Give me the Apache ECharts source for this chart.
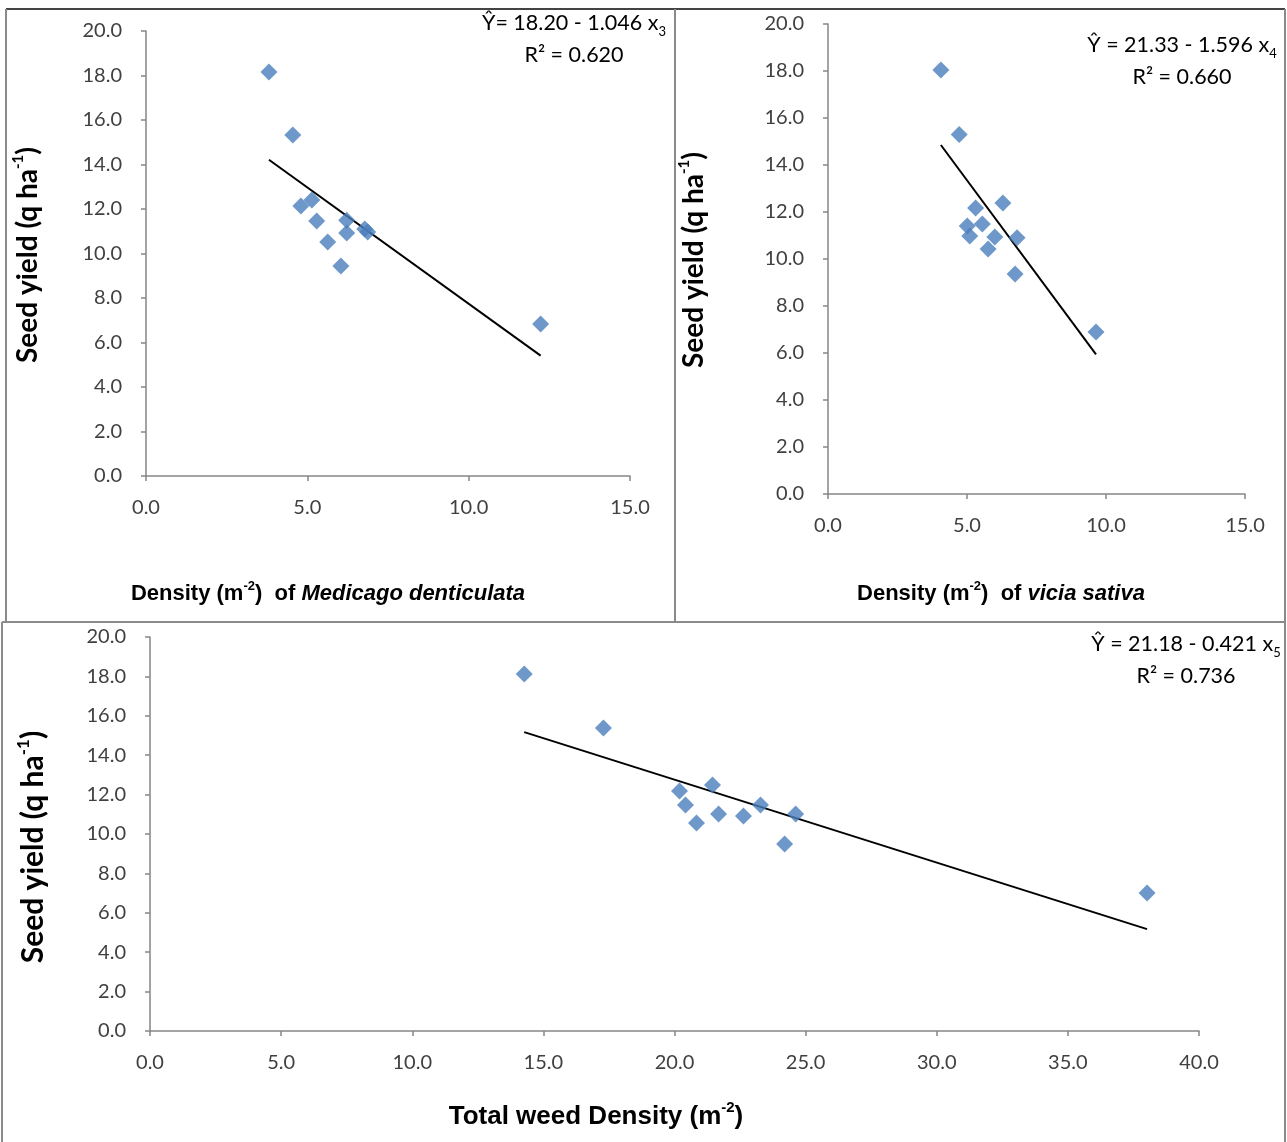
<!DOCTYPE html>
<html>
<head>
<meta charset="utf-8">
<title>Seed yield vs weed density</title>
<script src="https://cdn.jsdelivr.net/npm/echarts@6/dist/echarts.min.js"></script>
<style>
  html, body { margin: 0; padding: 0; background: #fff; }
  #chart { width: 1287px; height: 1142px; }
</style>
</head>
<body>
<div id="chart"></div>
<script>
// Weed density (plants m-2) and seed yield (q ha-1) per plot
const medicagoDensity = [3.81, 4.55, 4.80, 5.14, 5.29, 5.63, 6.04, 6.22, 6.22, 6.78, 6.87, 12.23];
const medicagoYield   = [18.16, 15.33, 12.13, 12.40, 11.46, 10.52, 9.44, 11.50, 10.92, 11.10, 10.97, 6.83];

const viciaDensity = [4.06, 4.72, 5.31, 6.29, 5.01, 5.10, 5.55, 6.00, 5.76, 6.80, 6.73, 9.64];
const viciaYield   = [18.04, 15.30, 12.17, 12.38, 11.40, 10.98, 11.49, 10.94, 10.43, 10.90, 9.36, 6.89];

const totalDensity = [14.27, 17.29, 20.19, 20.42, 20.84, 21.45, 21.68, 22.63, 23.28, 24.20, 24.62, 38.02];
const totalYield   = [18.12, 15.38, 12.18, 11.47, 10.56, 12.49, 11.02, 10.91, 11.47, 9.49, 11.02, 7.00];

// Fitted regressions: intercept, slope, R²
const fitMedicago = { a: 18.20, b: -1.046, r2: 0.620 };
const fitVicia    = { a: 21.33, b: -1.596, r2: 0.660 };
const fitTotal    = { a: 21.18, b: -0.421, r2: 0.736 };

// axis ranges: [min, max, interval]
const yTicks = [0, 20, 2];
const xTicksSmall = [0, 15, 5];
const xTicksTotal = [0, 40, 5];

function pairs(xs, ys) { return xs.map((x, i) => [x, ys[i]]); }
function fitLine(xs, fit) {
  const lo = Math.min(...xs), hi = Math.max(...xs);
  return [[lo, fit.a + fit.b * lo], [hi, fit.a + fit.b * hi]];
}

const tickFont = 'Lato, "Open Sans", sans-serif';
const axisColor = '#868686';
const labelColor = '#404040';
const markerColor = '#4a7ebb';

function axisCommon(range) {
  return {
    type: 'value', min: range[0], max: range[1], interval: range[2],
    axisLine: { show: true, lineStyle: { color: axisColor, width: 1.5 } },
    axisTick: { show: true, length: 5, lineStyle: { color: axisColor, width: 1.5 } },
    splitLine: { show: false },
    axisLabel: { color: labelColor, fontFamily: tickFont, fontSize: 20, margin: 22,
                 formatter: v => v.toFixed(1) }
  };
}
function xAxisCfg(idx, range) {
  return Object.assign(axisCommon(range), { gridIndex: idx });
}
function yAxisCfg(idx) {
  const c = Object.assign(axisCommon(yTicks), { gridIndex: idx });
  c.axisLabel.margin = 24;
  return c;
}
function scatter(idx, xs, ys) {
  return {
    type: 'scatter', xAxisIndex: idx, yAxisIndex: idx, data: pairs(xs, ys),
    symbol: 'diamond', symbolSize: 17, itemStyle: { color: markerColor }, z: 3
  };
}
function trend(idx, xs, fit) {
  return {
    type: 'line', xAxisIndex: idx, yAxisIndex: idx, data: fitLine(xs, fit),
    symbol: 'none', lineStyle: { color: '#000', width: 2 }, z: 2
  };
}

const eqFont = 'Lato, "Open Sans", sans-serif';
const eqRich = {
  t: { fontFamily: eqFont, fontSize: 21.5, color: '#222', lineHeight: 30 },
  s: { fontFamily: eqFont, fontSize: 13, color: '#222', lineHeight: 30, verticalAlign: 'bottom' }
};
function eqText(x, y, fit, sub, gap) {
  const sign = fit.b < 0 ? ' - ' : ' + ';
  return [
    { type: 'text', x: x, y: y, style: {
        text: '{t|Ŷ' + gap + '= ' + fit.a.toFixed(2) + sign + Math.abs(fit.b).toFixed(3) + ' x}{s|' + sub + '}',
        rich: eqRich, align: 'center', verticalAlign: 'middle' } },
    { type: 'text', x: x, y: y + 32, style: {
        text: '{t|R² = ' + fit.r2.toFixed(3) + '}',
        rich: eqRich, align: 'center', verticalAlign: 'middle' } }
  ];
}

const titleFont = '"Liberation Sans", Arial, sans-serif';
function yTitle(x, y, size) {
  const base = { fontFamily: 'Lato, "Open Sans", sans-serif', fontWeight: 'bold', fontSize: size,
                 color: '#111', lineHeight: size + 6 };
  return { type: 'text', x: x, y: y, rotation: Math.PI / 2, style: {
    text: '{b|Seed yield (q ha}{p|-1}{b|)}',
    rich: { b: base, p: Object.assign({}, base, { fontSize: Math.round(size * 0.55), verticalAlign: 'top' }) },
    align: 'center', verticalAlign: 'middle' } };
}
function xTitleSpecies(x, y, species) {
  const base = { fontFamily: titleFont, fontWeight: 'bold', fontSize: 22, color: '#111', lineHeight: 28 };
  return { type: 'text', x: x, y: y, style: {
    text: '{b|Density (m}{p|-2}{b|)  of }{i|' + species + '}',
    rich: {
      b: base,
      p: Object.assign({}, base, { fontSize: 13, verticalAlign: 'top' }),
      i: Object.assign({}, base, { fontStyle: 'italic' })
    }, align: 'center', verticalAlign: 'middle' } };
}

const frame = { stroke: '#8a8a8a', lineWidth: 2 };
function seg(x1, y1, x2, y2, style) {
  return { type: 'line', shape: { x1, y1, x2, y2 }, style: style || frame, silent: true };
}

const totalTitleBase = { fontFamily: '"Liberation Sans Narrow", "Liberation Sans", Arial, sans-serif',
                         fontWeight: 'bold', fontSize: 26, color: '#111', lineHeight: 34 };

const option = {
  animation: false,
  backgroundColor: '#fff',
  grid: [
    { left: 146, top: 31, width: 484, height: 445 },
    { left: 828, top: 24, width: 417, height: 470 },
    { left: 150, top: 637, width: 1049, height: 394 }
  ],
  xAxis: [xAxisCfg(0, xTicksSmall), xAxisCfg(1, xTicksSmall), xAxisCfg(2, xTicksTotal)],
  yAxis: [yAxisCfg(0), yAxisCfg(1), yAxisCfg(2)],
  series: [
    trend(0, medicagoDensity, fitMedicago), scatter(0, medicagoDensity, medicagoYield),
    trend(1, viciaDensity, fitVicia), scatter(1, viciaDensity, viciaYield),
    trend(2, totalDensity, fitTotal), scatter(2, totalDensity, totalYield)
  ],
  graphic: [
    // panel frames
    seg(6, 9, 1285, 9, { stroke: '#444', lineWidth: 2 }),
    seg(6, 9, 6, 622),
    seg(675, 9, 675, 622),
    seg(1285, 9, 1285, 622),
    seg(2, 622, 1285, 622),
    seg(2, 622, 2, 1142),
    seg(1285, 622, 1285, 1142),
    // regression equations
    ...eqText(574, 23, fitMedicago, '3', ''),
    ...eqText(1182, 45, fitVicia, '4', ' '),
    ...eqText(1186, 644, fitTotal, '5', ' '),
    // axis titles
    yTitle(28, 255, 28),
    yTitle(694, 260, 28),
    yTitle(33, 847, 30),
    xTitleSpecies(328, 594, 'Medicago denticulata'),
    xTitleSpecies(1001, 594, 'vicia sativa'),
    { type: 'text', x: 596, y: 1117, style: {
        text: '{b|Total weed Density (m}{p|-2}{b|)}',
        rich: { b: totalTitleBase, p: Object.assign({}, totalTitleBase, { fontSize: 15, verticalAlign: 'top' }) },
        align: 'center', verticalAlign: 'middle' } }
  ]
};

const chart = echarts.init(document.getElementById('chart'), null, { renderer: 'canvas' });
chart.setOption(option);
</script>
</body>
</html>
